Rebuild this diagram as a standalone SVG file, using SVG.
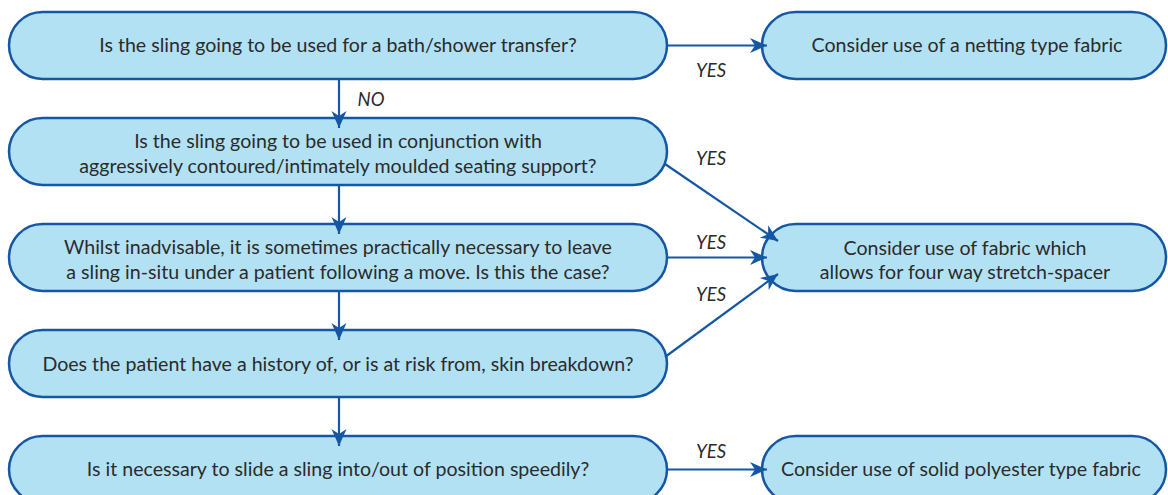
<svg xmlns="http://www.w3.org/2000/svg" width="1168" height="495" viewBox="0 0 1168 495">
  <style>
    .box { fill: #b3e1f4; stroke: #1557a3; stroke-width: 2.5; }
    .lbl { font-family: Lato, "Open Sans", sans-serif; font-size: 19.6px; fill: #2b2b2b; text-anchor: middle; }
    .ans { font-family: Lato, "Open Sans", sans-serif; font-size: 18.5px; font-style: italic; fill: #2b2b2b; text-anchor: middle; }
    .edge { fill: none; stroke: #1557a3; stroke-width: 2.2; marker-end: url(#arrow); }
  </style>
  <defs>
    <marker id="arrow" markerUnits="userSpaceOnUse" markerWidth="18" markerHeight="18" viewBox="0 0 18 18" refX="17" refY="9" orient="auto">
      <path d="M0,1.5 L17,9 L0,16.5 L5,9 Z" fill="#1557a3"/>
    </marker>
  </defs>
  <rect width="1168" height="495" fill="#ffffff"/>

  <!-- question nodes -->
  <g id="q1">
    <rect class="box" x="9" y="12" width="658" height="67" rx="33.5"/>
    <text class="lbl" x="338" y="52">Is the sling going to be used for a bath/shower transfer?</text>
  </g>
  <g id="q2">
    <rect class="box" x="9" y="118" width="658" height="67" rx="33.5"/>
    <text class="lbl" x="338" y="148">Is the sling going to be used in conjunction with</text>
    <text class="lbl" x="338" y="173">aggressively contoured/intimately moulded seating support?</text>
  </g>
  <g id="q3">
    <rect class="box" x="9" y="224" width="658" height="67" rx="33.5"/>
    <text class="lbl" x="338" y="254">Whilst inadvisable, it is sometimes practically necessary to leave</text>
    <text class="lbl" x="338" y="279">a sling in-situ under a patient following a move. Is this the case?</text>
  </g>
  <g id="q4">
    <rect class="box" x="9" y="330" width="658" height="67" rx="33.5"/>
    <text class="lbl" x="338" y="371">Does the patient have a history of, or is at risk from, skin breakdown?</text>
  </g>
  <g id="q5">
    <rect class="box" x="9" y="436" width="658" height="67" rx="33.5"/>
    <text class="lbl" x="338" y="476">Is it necessary to slide a sling into/out of position speedily?</text>
  </g>

  <!-- outcome nodes -->
  <g id="r1">
    <rect class="box" x="762" y="12" width="404" height="67" rx="33.5"/>
    <text class="lbl" x="967" y="52">Consider use of a netting type fabric</text>
  </g>
  <g id="r2">
    <rect class="box" x="762" y="224" width="404" height="67" rx="33.5"/>
    <text class="lbl" x="965" y="255">Consider use of fabric which</text>
    <text class="lbl" x="965" y="279">allows for four way stretch-spacer</text>
  </g>
  <g id="r3">
    <rect class="box" x="762" y="436" width="404" height="67" rx="33.5"/>
    <text class="lbl" x="961" y="476">Consider use of solid polyester type fabric</text>
  </g>

  <!-- connectors, drawn last so the arrowheads overlap the node borders -->
  <g id="connectors">
    <path class="edge" d="M339,79 V128"/>
    <path class="edge" d="M339,185 V234"/>
    <path class="edge" d="M339,291 V340"/>
    <path class="edge" d="M339,397 V446"/>
    <path class="edge" d="M667,45.5 H767"/>
    <path class="edge" d="M665,164 L778,241"/>
    <path class="edge" d="M667,257.5 H767"/>
    <path class="edge" d="M665,357 L778,274"/>
    <path class="edge" d="M667,469.5 H767"/>
    <text class="ans" x="711" y="77">YES</text>
    <text class="ans" x="371" y="106">NO</text>
    <text class="ans" x="711" y="165">YES</text>
    <text class="ans" x="711" y="249">YES</text>
    <text class="ans" x="711" y="301">YES</text>
    <text class="ans" x="711" y="458">YES</text>
  </g>
</svg>
